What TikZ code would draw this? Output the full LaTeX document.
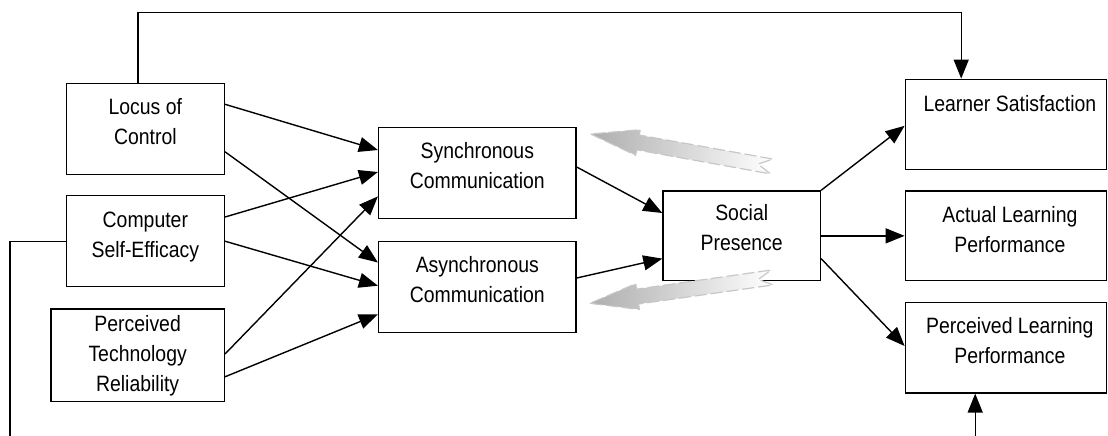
\documentclass[tikz,border=0pt]{standalone}
\usepackage{fontspec}
\setmainfont[FakeStretch=0.875]{Liberation Sans}
\usetikzlibrary{arrows.meta,calc}
\newcommand{\boxtext}[2][2.6pt]{\raisebox{#1}[\height][\depth]{\begin{tabular}{@{}c@{}}#2\end{tabular}}}
\newcommand{\rboxtext}[2][2.4pt]{\hspace*{4pt}\raisebox{#1}[\height][\depth]{\begin{tabular}{@{}c@{}}#2\end{tabular}}}
\begin{document}
\begin{tikzpicture}[x=0.5pt,y=-0.5pt,
  box/.style={draw, line width=0.7pt, inner sep=0pt, minimum height=45.5pt,
    font=\fontsize{11.1}{15}\selectfont},
  conn/.style={line width=0.7pt, -{Triangle[length=9.5pt,width=7.5pt]}},
  plainline/.style={line width=0.7pt},
  gfill/.style={left color=black!32, right color=white, draw=none},
  gedge/.style={draw=black!22, line width=0.6pt, dash pattern=on 6pt off 2pt}]
\useasboundingbox (0,0) rectangle (1108,435);

% boxes
\node[box, minimum width=79pt] (loc) at (145.35,129.1) {\boxtext[2.9pt]{Locus of\\Control}};
\node[box, minimum width=79pt] (cse) at (145.35,241.2) {\boxtext{Computer\\Self-Efficacy}};
\node[box, minimum width=86.65pt, minimum height=46.2pt] (ptr) at (137.65,355.2) {\boxtext[-0.2pt]{Perceived\\Technology\\Reliability}};
\node[box, minimum width=98.7pt] (syn) at (477.3,172.7) {\boxtext[2.4pt]{Synchronous\\Communication}};
\node[box, minimum width=98.7pt] (asy) at (477.3,287) {\boxtext{Asynchronous\\Communication}};
\node[box, minimum width=78.7pt, minimum height=44.85pt] (soc) at (741.7,235.85) {\boxtext[2.95pt]{Social\\Presence}};
\node[box, minimum width=100.6pt, minimum height=45.1pt] (ls) at (1005.9,124.4) {\rboxtext[9.7pt]{Learner Satisfaction}};
\node[box, minimum width=100.6pt, minimum height=44.85pt] (alp) at (1005.9,235.85) {\rboxtext{Actual Learning\\Performance}};
\node[box, minimum width=100.6pt, minimum height=45.1pt] (plp) at (1005.9,347.8) {\rboxtext[2.5pt]{Perceived Learning\\Performance}};

% predictors -> communication
\draw[conn] ($(loc.east)+(0,-24.8)$) -- ($(syn.west)+(0,-22.7)$);
\draw[conn] ($(loc.east)+(0,22.7)$) -- ($(asy.west)+(0,-24.5)$);
\draw[conn] ($(cse.east)+(0,-24.2)$) -- ($(syn.west)+(0,-0.7)$);
\draw[conn] (cse.east) -- ($(asy.west)+(0,-1.3)$);
\draw[conn] ($(ptr.east)+(0,-1.2)$) -- ($(syn.west)+(0,23.7)$);
\draw[conn] ($(ptr.east)+(0,21.6)$) -- ($(asy.west)+(0,27.3)$);

% communication -> social presence
\draw[conn] ($(syn.east)+(0,-5.7)$) -- ($(soc.west)+(0,-22.85)$);
\draw[conn] ($(asy.east)+(0,-9)$) -- ($(soc.west)+(0,22.75)$);

% social presence -> outcomes
\draw[conn] (soc.north east) -- ($(ls.west)+(0,1.4)$);
\draw[conn] (soc.east) -- (alp.west);
\draw[conn] ($(soc.east)+(0,22.75)$) -- ($(plp.west)+(0,-1.8)$);

% feedback lines
\coordinate (t1) at (137.9,12.5);
\coordinate (t2) at (961.2,12.5);
\draw[conn] (loc.north -| t1) -- (t1) -- (t2) -- (t2 |- ls.north);
\coordinate (lb) at (10,436);
\draw[plainline] (cse.west) -| (lb);
\coordinate (rb) at (975.2,436);
\draw[conn] (rb) -- (rb |- plp.south);

% grey fat arrows
\begin{scope}[shift={(590.7,134)}, rotate=-10.17]
  \path[gfill] (0,0) -- (48,13) -- (48,7.5) -- (184,7.5) -- (170,0) -- (184,-7.5) -- (48,-7.5) -- (48,-13) -- cycle;
  \draw[gedge] (0,0) -- (48,13) -- (48,7.5) -- (184,7.5) -- (170,0) -- (184,-7.5) -- (48,-7.5) -- (48,-13) -- cycle;
\end{scope}
\begin{scope}[shift={(590,303.3)}, rotate=8.07]
  \path[gfill] (0,0) -- (48,13) -- (48,7.5) -- (184,7.5) -- (170,0) -- (184,-7.5) -- (48,-7.5) -- (48,-13) -- cycle;
  \draw[gedge] (0,0) -- (48,13) -- (48,7.5) -- (184,7.5) -- (170,0) -- (184,-7.5) -- (48,-7.5) -- (48,-13) -- cycle;
\end{scope}
\end{tikzpicture}
\end{document}
